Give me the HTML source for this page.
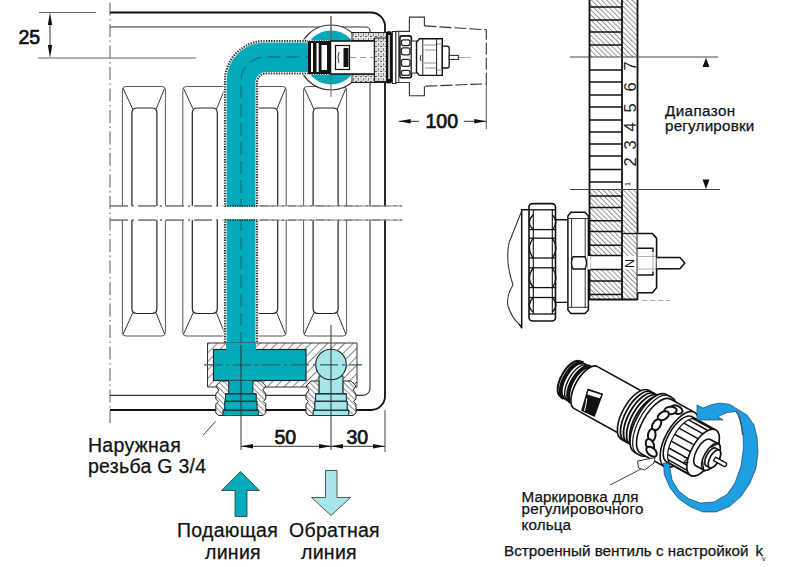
<!DOCTYPE html>
<html><head><meta charset="utf-8"><style>
html,body{margin:0;padding:0;background:#fff;}
svg{display:block;}
text{font-family:"Liberation Sans",sans-serif;fill:#111;}
.dim{font-size:19.5px;font-weight:400;stroke:#111;stroke-width:0.7px;}
.t19{font-size:19.5px;stroke:#111;stroke-width:0.25px;letter-spacing:0.28px;}
.t15{font-size:15.2px;stroke:#111;stroke-width:0.25px;letter-spacing:0.12px;}
</style></head><body>
<svg width="800" height="567" viewBox="0 0 800 567">
<rect width="800" height="567" fill="#fff"/>
<defs>
<pattern id="h1" width="3.6" height="3.6" patternUnits="userSpaceOnUse" patternTransform="rotate(-45)">
<rect width="3.6" height="3.6" fill="#fff"/><line x1="0" y1="0" x2="0" y2="3.6" stroke="#333" stroke-width="1"/></pattern>
<pattern id="h2" width="6" height="6" patternUnits="userSpaceOnUse" patternTransform="rotate(45)">
<rect width="6" height="6" fill="#fff"/><line x1="0" y1="0" x2="0" y2="6" stroke="#222" stroke-width="1.1"/></pattern>
<pattern id="h3" width="4" height="4" patternUnits="userSpaceOnUse" patternTransform="rotate(-45)">
<rect width="4" height="4" fill="#fff"/><line x1="0" y1="0" x2="0" y2="4" stroke="#222" stroke-width="1"/></pattern>
<pattern id="stip" width="5" height="5" patternUnits="userSpaceOnUse">
<rect width="5" height="5" fill="#f2f2f2"/><circle cx="1" cy="1.5" r="0.8" fill="#222"/><circle cx="3.5" cy="4" r="0.7" fill="#333"/><rect x="2.5" y="0.5" width="1.8" height="0.8" fill="#555"/><rect x="0.3" y="3.6" width="1.2" height="0.8" fill="#666"/></pattern>
<marker id="ah" viewBox="0 0 12 8" refX="12" refY="4" markerWidth="12" markerHeight="8" markerUnits="userSpaceOnUse" orient="auto-start-reverse">
<path d="M0,0 L12,4 L0,8 Z" fill="#111"/></marker>
</defs>
<g stroke="#666" stroke-width="1">
<line x1="39" y1="12.5" x2="96" y2="12.5"/>
<line x1="38" y1="58" x2="196" y2="58"/>
</g>
<line x1="50" y1="19" x2="50" y2="52" stroke="#333" stroke-width="1"/>
<path d="M50,12.5 L47.8,25 L52.2,25 Z M50,58 L47.8,45 L52.2,45 Z" fill="#111"/>
<text x="18.5" y="43.7" class="dim">25</text>
<line x1="110" y1="2.5" x2="110" y2="423" stroke="#777" stroke-width="1.2" stroke-dasharray="13 3.5 1.5 3.5"/>
<path d="M110,27 H366 A4,4 0 0 1 370,31 V388 A7,7 0 0 1 363,395.4 H110" fill="none" stroke="#333" stroke-width="1.1"/>
<path d="M110,12.5 H371 A14,14 0 0 1 385,26.5 V396 A14,14 0 0 1 371,410 H110" fill="none" stroke="#111" stroke-width="1.8"/>
<path d="M122.4,206 V90 Q122.4,86.5 125.9,86.5 H161.9 Q165.4,86.5 165.4,90 V206" fill="none" stroke="#555" stroke-width="1"/>
<path d="M123.2,88.5 L132.9,109.5 M164.6,88.5 L155.9,109.5" fill="none" stroke="#333" stroke-width="1"/>
<path d="M131.9,206 V113 Q131.9,108 136.9,108 H151.9 Q156.9,108 156.9,113 V206" fill="none" stroke="#222" stroke-width="1.2"/>
<path d="M122.4,220 V332.5 Q122.4,336 125.9,336 H161.9 Q165.4,336 165.4,332.5 V220" fill="none" stroke="#555" stroke-width="1"/>
<path d="M123.2,334 L132.9,312.5 M164.6,334 L155.9,312.5" fill="none" stroke="#333" stroke-width="1"/>
<path d="M131.9,220 V308.5 Q131.9,313.5 136.9,313.5 H151.9 Q156.9,313.5 156.9,308.5 V220" fill="none" stroke="#222" stroke-width="1.2"/>
<path d="M182.8,206 V90 Q182.8,86.5 186.3,86.5 H222.3 Q225.8,86.5 225.8,90 V206" fill="none" stroke="#555" stroke-width="1"/>
<path d="M183.60000000000002,88.5 L193.3,109.5 M225.0,88.5 L216.3,109.5" fill="none" stroke="#333" stroke-width="1"/>
<path d="M192.3,206 V113 Q192.3,108 197.3,108 H212.3 Q217.3,108 217.3,113 V206" fill="none" stroke="#222" stroke-width="1.2"/>
<path d="M182.8,220 V332.5 Q182.8,336 186.3,336 H222.3 Q225.8,336 225.8,332.5 V220" fill="none" stroke="#555" stroke-width="1"/>
<path d="M183.60000000000002,334 L193.3,312.5 M225.0,334 L216.3,312.5" fill="none" stroke="#333" stroke-width="1"/>
<path d="M192.3,220 V308.5 Q192.3,313.5 197.3,313.5 H212.3 Q217.3,313.5 217.3,308.5 V220" fill="none" stroke="#222" stroke-width="1.2"/>
<path d="M243.2,206 V90 Q243.2,86.5 246.7,86.5 H282.7 Q286.2,86.5 286.2,90 V206" fill="none" stroke="#555" stroke-width="1"/>
<path d="M244.0,88.5 L253.7,109.5 M285.4,88.5 L276.7,109.5" fill="none" stroke="#333" stroke-width="1"/>
<path d="M252.7,206 V113 Q252.7,108 257.7,108 H272.7 Q277.7,108 277.7,113 V206" fill="none" stroke="#222" stroke-width="1.2"/>
<path d="M243.2,220 V332.5 Q243.2,336 246.7,336 H282.7 Q286.2,336 286.2,332.5 V220" fill="none" stroke="#555" stroke-width="1"/>
<path d="M244.0,334 L253.7,312.5 M285.4,334 L276.7,312.5" fill="none" stroke="#333" stroke-width="1"/>
<path d="M252.7,220 V308.5 Q252.7,313.5 257.7,313.5 H272.7 Q277.7,313.5 277.7,308.5 V220" fill="none" stroke="#222" stroke-width="1.2"/>
<path d="M303.6,206 V90 Q303.6,86.5 307.1,86.5 H343.1 Q346.6,86.5 346.6,90 V206" fill="none" stroke="#555" stroke-width="1"/>
<path d="M304.40000000000003,88.5 L314.1,109.5 M345.8,88.5 L337.1,109.5" fill="none" stroke="#333" stroke-width="1"/>
<path d="M313.1,206 V113 Q313.1,108 318.1,108 H333.1 Q338.1,108 338.1,113 V206" fill="none" stroke="#222" stroke-width="1.2"/>
<path d="M303.6,220 V332.5 Q303.6,336 307.1,336 H343.1 Q346.6,336 346.6,332.5 V220" fill="none" stroke="#555" stroke-width="1"/>
<path d="M304.40000000000003,334 L314.1,312.5 M345.8,334 L337.1,312.5" fill="none" stroke="#333" stroke-width="1"/>
<path d="M313.1,220 V308.5 Q313.1,313.5 318.1,313.5 H333.1 Q338.1,313.5 338.1,308.5 V220" fill="none" stroke="#222" stroke-width="1.2"/>
<g stroke="#666" stroke-width="1" stroke-dasharray="18 4 2 4">
<line x1="110" y1="206" x2="402" y2="206"/><line x1="110" y1="220" x2="402" y2="220"/>
</g>
<circle cx="331" cy="57.5" r="32.5" fill="#fff" stroke="#333" stroke-width="1.2"/>
<circle cx="331" cy="57.5" r="27" fill="#02abb9"/>
<line x1="331" y1="16" x2="331" y2="97" stroke="#666" stroke-width="1"/>
<path d="M225,345 V81 A40,40 0 0 1 265,41 H310 V73.5 H266 A9,9 0 0 0 257,82.5 V345 Z" fill="#02abb9" stroke="#fff" stroke-width="3.2"/>
<path d="M225,345 V81 A40,40 0 0 1 265,41 H310 V73.5 H266 A9,9 0 0 0 257,82.5 V345 Z" fill="none" stroke="#333" stroke-width="2.2" stroke-dasharray="1.4 1.2"/>
<path d="M241,345 V81 A24,24 0 0 1 265,57 H310" fill="none" stroke="#067a8a" stroke-width="1.5" stroke-dasharray="13 6"/>
<rect x="111" y="206.6" width="290" height="12.8" fill="#fff"/>
<g stroke="#666" stroke-width="1" stroke-dasharray="18 4 2 4"><line x1="110" y1="206" x2="222" y2="206"/><line x1="110" y1="220" x2="222" y2="220"/><line x1="260" y1="206" x2="402" y2="206"/><line x1="260" y1="220" x2="402" y2="220"/></g>
<path d="M225,206 H257 M225,220 H257" stroke="#222" stroke-width="1.6" stroke-dasharray="1.3 1.1"/>
<path d="M207.5,343 H357 V387 H207.5 Z" fill="url(#h2)" stroke="#333" stroke-width="1"/>
<rect x="213.5" y="349.5" width="92.5" height="31" fill="#02abb9" stroke="#222" stroke-width="1.2"/>
<rect x="226" y="343" width="30" height="7" fill="#02abb9"/>
<rect x="228.7" y="380.6" width="24.2" height="13.5" fill="#02abb9"/>
<rect x="319" y="376" width="24" height="18" fill="#a6e6eb" stroke="#222" stroke-width="1"/>
<circle cx="331" cy="364.5" r="15.3" fill="#a6e6eb" stroke="#222" stroke-width="1.1"/>
<path d="M228.7,381 L220.8,381 L215.8,386 L218.8,390 L215.8,394 L215.8,399 L218.3,401.5 L215.8,404 L215.8,413 L218.8,415.5 L223.1,415.5 L223.1,410.3 L224.7,410.3 L224.7,401.2 L225.5,401.2 L225.5,393.7 L228.7,393.7 Z" fill="url(#h3)" stroke="#222" stroke-width="1"/>
<path d="M252.9,381 L260.8,381 L265.8,386 L262.8,390 L265.8,394 L265.8,399 L263.3,401.5 L265.8,404 L265.8,413 L262.8,415.5 L258.5,415.5 L258.5,410.3 L256.9,410.3 L256.9,401.2 L256.1,401.2 L256.1,393.7 L252.9,393.7 Z" fill="url(#h3)" stroke="#222" stroke-width="1"/>
<path d="M225.5,393.7 H256.1 V401.2 H256.90000000000003 V410.3 H258.5 V415.5 H223.10000000000002 V410.3 H224.70000000000002 V401.2 H225.5 Z" fill="#02abb9" stroke="#1a3a40" stroke-width="1"/>
<path d="M225.5,393.7 H256.1 M224.70000000000002,401.2 H256.90000000000003 M223.10000000000002,410.3 H258.5" stroke="#1a3a40" stroke-width="1.4"/>
<path d="M318.9,381 L311.0,381 L306.0,386 L309.0,390 L306.0,394 L306.0,399 L308.5,401.5 L306.0,404 L306.0,413 L309.0,415.5 L313.3,415.5 L313.3,410.3 L314.9,410.3 L314.9,401.2 L315.7,401.2 L315.7,393.7 L318.9,393.7 Z" fill="url(#h3)" stroke="#222" stroke-width="1"/>
<path d="M343.1,381 L351.0,381 L356.0,386 L353.0,390 L356.0,394 L356.0,399 L353.5,401.5 L356.0,404 L356.0,413 L353.0,415.5 L348.7,415.5 L348.7,410.3 L347.1,410.3 L347.1,401.2 L346.3,401.2 L346.3,393.7 L343.1,393.7 Z" fill="url(#h3)" stroke="#222" stroke-width="1"/>
<path d="M315.7,393.7 H346.3 V401.2 H347.1 V410.3 H348.7 V415.5 H313.3 V410.3 H314.9 V401.2 H315.7 Z" fill="#a6e6eb" stroke="#1a3a40" stroke-width="1"/>
<path d="M315.7,393.7 H346.3 M314.9,401.2 H347.1 M313.3,410.3 H348.7" stroke="#1a3a40" stroke-width="1.4"/>
<line x1="204" y1="364.8" x2="362" y2="364.8" stroke="#2f6068" stroke-width="1.2" stroke-dasharray="18 4 3 4"/>
<line x1="241" y1="345" x2="241" y2="450" stroke="#333" stroke-width="1"/>
<line x1="331" y1="325" x2="331" y2="450" stroke="#333" stroke-width="1"/>
<line x1="385" y1="410" x2="385" y2="452" stroke="#444" stroke-width="1"/>
<line x1="241" y1="446.3" x2="385" y2="446.3" stroke="#333" stroke-width="1"/>
<path d="M241,446.3 L253,444 L253,448.6 Z M331,446.3 L319,444 L319,448.6 Z M331,446.3 L343,444 L343,448.6 Z M385,446.3 L373,444 L373,448.6 Z" fill="#111"/>
<text x="274.5" y="443.7" class="dim">50</text>
<text x="346.5" y="443.7" class="dim">30</text>
<line x1="215.4" y1="421.4" x2="203.2" y2="435.2" stroke="#444" stroke-width="1"/>
<path d="M240.5,471.5 L259.5,490.5 H247 V516.5 H235 V490.5 H221.5 Z" fill="#02abb9" stroke="#333" stroke-width="0.8"/>
<path d="M325.5,470.5 H337 V497.5 H350.5 L331,515.5 L311.5,497.5 H325.5 Z" fill="#a6e6eb" stroke="#333" stroke-width="0.8"/>
<line x1="331" y1="16" x2="331" y2="41" stroke="#666" stroke-width="1"/>
<rect x="352" y="32.5" width="37" height="8" fill="url(#stip)" stroke="#222" stroke-width="1"/>
<rect x="352" y="74" width="37" height="8.5" fill="url(#stip)" stroke="#222" stroke-width="1"/>
<rect x="308" y="40.5" width="22.5" height="34" fill="#111"/>
<rect x="311" y="43" width="2" height="29" fill="#fff"/>
<rect x="316.5" y="43" width="2.2" height="29" fill="#fff"/>
<rect x="321.5" y="45" width="5.5" height="25" fill="#fff"/>
<path d="M308,40.5 H331 M308,74.5 H331" stroke="#fff" stroke-width="1" stroke-dasharray="1.2 1.2"/>
<rect x="330.5" y="41" width="44" height="33" fill="#fff" stroke="#111" stroke-width="1.5"/>
<rect x="335.5" y="45.5" width="14" height="24" fill="#fff" stroke="#111" stroke-width="1.2"/>
<rect x="343.5" y="48" width="5" height="19" fill="#111"/>
<path d="M339,52 Q337,57 339,63" fill="none" stroke="#333" stroke-width="1"/>
<line x1="350" y1="57.5" x2="374" y2="57.5" stroke="#999" stroke-width="1" stroke-dasharray="6 4"/>
<rect x="374.5" y="38" width="14" height="43.5" fill="url(#stip)" stroke="#222" stroke-width="1"/>
<rect x="386" y="31.3" width="6" height="52.2" rx="2" fill="#111"/>
<rect x="388.3" y="35" width="1.6" height="44" fill="#ddd"/>
<rect x="392.4" y="31.5" width="3.5" height="52" fill="#fff" stroke="#222" stroke-width="1"/>
<path d="M396,31.4 H409.4 V17.1 H424.4 V25.9" fill="none" stroke="#333" stroke-width="1.1"/>
<path d="M396,82.5 H409.4 V95.7 H424.4 V86.2" fill="none" stroke="#333" stroke-width="1.1"/>
<path d="M424.4,25.9 L486.3,29.8 V83.8 L424.4,86.2" fill="none" stroke="#333" stroke-width="1.1" stroke-dasharray="12 3"/>
<rect x="395.9" y="31.5" width="2.9" height="51" fill="#fff" stroke="#333" stroke-width="1"/>
<rect x="399.9" y="35.9" width="11.5" height="41.8" rx="2" fill="#fff" stroke="#111" stroke-width="1.6"/>
<rect x="401.4" y="39.9" width="8.6" height="5.7" rx="2" fill="#fff" stroke="#222" stroke-width="1.3"/>
<rect x="401.4" y="47.9" width="8.6" height="6.9" rx="2" fill="#fff" stroke="#222" stroke-width="1.3"/>
<rect x="401.4" y="59.4" width="8.6" height="6.9" rx="2" fill="#fff" stroke="#222" stroke-width="1.3"/>
<rect x="401.4" y="70.3" width="8.6" height="5.1" rx="2" fill="#fff" stroke="#222" stroke-width="1.3"/>
<rect x="411.4" y="41" width="5.1" height="32" fill="#fff" stroke="#333" stroke-width="1"/>
<path d="M416.5,42.2 L419.4,38.75 H442.3 V75.4 H419.4 L416.5,72 Z" fill="#fff" stroke="#111" stroke-width="1.4"/>
<path d="M422.8,39 V75.2 M436.6,39 V75.2" stroke="#222" stroke-width="1"/>
<path d="M424,45 H436 M425,50 H436 M424,63 H436 M425,68 H436 M437,44 H441 M437,70 H441" stroke="#777" stroke-width="0.8"/>
<path d="M421,55 Q419.5,58 421,61" fill="none" stroke="#333" stroke-width="1"/>
<path d="M442.3,46.2 H447 Q449.2,46.2 449.2,48.5 V65.7 Q449.2,68 447,68 H442.3 Z" fill="#fff" stroke="#111" stroke-width="1.3"/>
<rect x="449.2" y="55.4" width="9.2" height="4" fill="#fff" stroke="#222" stroke-width="1"/>
<line x1="459" y1="57.5" x2="470" y2="57.5" stroke="#999" stroke-width="0.8"/>
<line x1="486.3" y1="84" x2="486.3" y2="129" stroke="#555" stroke-width="1"/>
<path d="M398.7,121.3 H419 M463.7,121.3 H486" stroke="#333" stroke-width="1"/>
<path d="M398.7,121.3 L410.7,119 L410.7,123.6 Z M486.3,121.3 L474.3,119 L474.3,123.6 Z" fill="#111"/>
<text x="425.5" y="127.5" class="dim">100</text>
<rect x="589.5" y="0" width="32.5" height="57" fill="url(#h1)"/>
<rect x="622" y="0" width="15.5" height="57" fill="url(#h1)"/>
<rect x="589.5" y="190" width="32.5" height="66" fill="url(#h1)"/>
<rect x="589.5" y="269.5" width="32.5" height="30" fill="url(#h1)"/>
<rect x="622" y="190" width="15.5" height="66" fill="url(#h1)"/>
<rect x="622" y="269.5" width="15.5" height="30" fill="url(#h1)"/>
<g stroke="#111" stroke-width="1.5"><line x1="589.5" y1="7" x2="622" y2="7"/><line x1="589.5" y1="20" x2="622" y2="20"/><line x1="589.5" y1="32" x2="622" y2="32"/><line x1="589.5" y1="45" x2="622" y2="45"/><line x1="589.5" y1="70" x2="622" y2="70"/><line x1="589.5" y1="82" x2="622" y2="82"/><line x1="589.5" y1="95" x2="622" y2="95"/><line x1="589.5" y1="107" x2="622" y2="107"/><line x1="589.5" y1="120" x2="622" y2="120"/><line x1="589.5" y1="132" x2="622" y2="132"/><line x1="589.5" y1="144" x2="622" y2="144"/><line x1="589.5" y1="156" x2="622" y2="156"/><line x1="589.5" y1="169.5" x2="622" y2="169.5"/><line x1="589.5" y1="182" x2="622" y2="182"/><line x1="589.5" y1="196" x2="622" y2="196"/><line x1="589.5" y1="207.5" x2="622" y2="207.5"/><line x1="589.5" y1="220.8" x2="622" y2="220.8"/><line x1="589.5" y1="231.6" x2="622" y2="231.6"/><line x1="589.5" y1="245.3" x2="622" y2="245.3"/><line x1="589.5" y1="255.6" x2="622" y2="255.6"/><line x1="589.5" y1="269.4" x2="622" y2="269.4"/><line x1="589.5" y1="280.9" x2="622" y2="280.9"/><line x1="589.5" y1="294.6" x2="622" y2="294.6"/></g>
<path d="M589.5,0 V300 M622,0 V300 M637.5,0 V300 M589.5,299.5 H637.5" fill="none" stroke="#111" stroke-width="1.8"/>
<line x1="570" y1="57" x2="718" y2="57" stroke="#444" stroke-width="1"/>
<line x1="570" y1="189.5" x2="720" y2="189.5" stroke="#444" stroke-width="1"/>
<path d="M706,58 L702.5,67 H709.5 Z M706,189 L702.5,179.5 H709.5 Z" fill="#111"/>
<text x="0" y="0" transform="translate(635.5,66) rotate(-90)" text-anchor="middle" style="font-size:16.5px;fill:#222">7</text>
<text x="0" y="0" transform="translate(635.5,87) rotate(-90)" text-anchor="middle" style="font-size:16.5px;fill:#222">6</text>
<text x="0" y="0" transform="translate(635.5,108) rotate(-90)" text-anchor="middle" style="font-size:16.5px;fill:#222">5</text>
<text x="0" y="0" transform="translate(635.5,127) rotate(-90)" text-anchor="middle" style="font-size:16.5px;fill:#222">4</text>
<text x="0" y="0" transform="translate(635.5,145) rotate(-90)" text-anchor="middle" style="font-size:16.5px;fill:#222">3</text>
<text x="0" y="0" transform="translate(635.5,162) rotate(-90)" text-anchor="middle" style="font-size:16.5px;fill:#222">2</text>
<text x="0" y="0" transform="translate(630,184) rotate(-90)" text-anchor="middle" style="font-size:8px;fill:#222">1</text>
<path d="M622,233.5 H637.5" stroke="#111" stroke-width="1.3"/>
<text x="0" y="0" transform="translate(634,263.5) rotate(-90)" text-anchor="middle" style="font-size:12.5px;fill:#111">N</text>
<path d="M637.5,233.5 H652.4 L656.6,238.4 V287.8 L652.4,292.7 H637.5" fill="#fff" stroke="#111" stroke-width="1.6"/>
<path d="M637.5,248.3 H653 V252 M637.5,275 H653 V271.5" fill="none" stroke="#111" stroke-width="1.4"/>
<path d="M653,252 V271.5 M637.5,256.5 H656 M637.5,269 H656" fill="none" stroke="#999" stroke-width="0.8"/>
<path d="M656.6,257.4 H679.9 L684.8,263 L679.9,268.7 H656.6" fill="#fff" stroke="#111" stroke-width="1.5"/>
<path d="M642.5,300.5 H670" stroke="#aaa" stroke-width="1" stroke-dasharray="5 3"/>
<path d="M555,219.7 H569 V302.4 H555 Z" fill="#fff" stroke="#111" stroke-width="1.4"/>
<path d="M571,212.3 H585 L588.4,216 V310 L585,313.5 H571 L567.9,310 V216 Z" fill="#fff" stroke="#111" stroke-width="1.5"/>
<path d="M568,218.5 H588.4 M568,307.3 H588.4 M571.6,218.5 V307.3 M585.2,218.5 V307.3" fill="none" stroke="#333" stroke-width="1"/>
<path d="M573,256.7 H585 Q588,262.8 585,269 H573 Q570,262.8 573,256.7 Z" fill="#fff" stroke="#111" stroke-width="1.4"/>
<rect x="588" y="256" width="2.5" height="13.5" fill="#fff"/>
<rect x="529" y="203.6" width="26.5" height="117.4" rx="3.5" fill="#fff" stroke="#111" stroke-width="1.6"/>
<path d="M533.3,209.8 V314 M552.3,209.8 V314" stroke="#111" stroke-width="1.1"/>
<line x1="529" y1="209.8" x2="555.5" y2="209.8" stroke="#111" stroke-width="1.3"/>
<line x1="529" y1="229.6" x2="555.5" y2="229.6" stroke="#111" stroke-width="1.3"/>
<line x1="529" y1="238.2" x2="555.5" y2="238.2" stroke="#111" stroke-width="1.3"/>
<line x1="529" y1="258" x2="555.5" y2="258" stroke="#111" stroke-width="1.3"/>
<line x1="529" y1="267.8" x2="555.5" y2="267.8" stroke="#111" stroke-width="1.3"/>
<line x1="529" y1="287.6" x2="555.5" y2="287.6" stroke="#111" stroke-width="1.3"/>
<line x1="529" y1="297.5" x2="555.5" y2="297.5" stroke="#111" stroke-width="1.3"/>
<line x1="529" y1="314" x2="555.5" y2="314" stroke="#111" stroke-width="1.3"/>
<path d="M533.3,214.75 Q525.5,222.175 533.3,229.6 M552.3,214.75 Q559.5,222.175 552.3,229.6" fill="none" stroke="#111" stroke-width="1.3"/>
<path d="M533.3,238.2 Q525.5,248.1 533.3,258 M552.3,238.2 Q559.5,248.1 552.3,258" fill="none" stroke="#111" stroke-width="1.3"/>
<path d="M533.3,267.8 Q525.5,277.70000000000005 533.3,287.6 M552.3,267.8 Q559.5,277.70000000000005 552.3,287.6" fill="none" stroke="#111" stroke-width="1.3"/>
<path d="M533.3,297.5 Q525.5,304.9 533.3,312.3 M552.3,297.5 Q559.5,304.9 552.3,312.3" fill="none" stroke="#111" stroke-width="1.3"/>
<path d="M529,209.8 H521.7 V328.3 M518.5,323.4 L522.2,328.3" fill="none" stroke="#111" stroke-width="1.5"/>
<path d="M521.7,211 Q516,225 509,243 Q505,262 513,285 Q506,296 508,306 Q512,318 518.5,323.4" fill="none" stroke="#333" stroke-width="1.1"/>
<g transform="translate(592,391) rotate(29)"><path d="M-25,-20 L-7,-20 A9.00,20 0 0 1 -7,20 L-25,20 A9.00,20 0 0 1 -25,-20 Z" fill="#fff" stroke="#111" stroke-width="2"/><path d="M-21.50,20.00 A9.00,20 0 0 1 -21.50,-20.00" fill="none" stroke="#111" stroke-width="4"/><path d="M-17.00,20.00 A9.00,20 0 0 1 -17.00,-20.00" fill="none" stroke="#111" stroke-width="1.4"/><path d="M-13.00,20.00 A9.00,20 0 0 1 -13.00,-20.00" fill="none" stroke="#111" stroke-width="4"/><path d="M-9.00,20.00 A9.00,20 0 0 1 -9.00,-20.00" fill="none" stroke="#111" stroke-width="1.4"/><path d="M-7,-24 L50,-24 A10.80,24 0 0 1 50,24 L-7,24 A10.80,24 0 0 1 -7,-24 Z" fill="#fff" stroke="#111" stroke-width="1.6"/><path d="M-5,0 L11,-3 L15,21.5 L0,22.5 Z" fill="#111"/><path d="M-4,1 L10.5,-2 L11,3 L-3,6 Z" fill="#fff" stroke="#111" stroke-width="1.2"/><path d="M-1,9 Q2,16 3,21" fill="none" stroke="#fff" stroke-width="1"/><path d="M49,-28 L67,-28 A12.60,28 0 0 1 67,28 L49,28 A12.60,28 0 0 1 49,-28 Z" fill="#fff" stroke="#111" stroke-width="1.6"/><path d="M52.50,28.00 A12.60,28 0 0 1 52.50,-28.00" fill="none" stroke="#111" stroke-width="1.8"/><path d="M56.00,28.00 A12.60,28 0 0 1 56.00,-28.00" fill="none" stroke="#111" stroke-width="1.8"/><path d="M59.50,28.00 A12.60,28 0 0 1 59.50,-28.00" fill="none" stroke="#111" stroke-width="1.8"/><path d="M63.00,28.00 A12.60,28 0 0 1 63.00,-28.00" fill="none" stroke="#111" stroke-width="1.8"/><path d="M66.00,28.00 A12.60,28 0 0 1 66.00,-28.00" fill="none" stroke="#111" stroke-width="1.8"/><path d="M67,-33 L73,-33 A14.85,33 0 0 1 73,33 L67,33 A14.85,33 0 0 1 67,-33 Z" fill="#fff" stroke="#111" stroke-width="1.6"/><path d="M70.00,33.00 A14.85,33 0 0 1 70.00,-33.00" fill="none" stroke="#111" stroke-width="1.2"/><path d="M73,-31 L100,-31 A13.95,31 0 0 1 100,31 L73,31 A13.95,31 0 0 1 73,-31 Z" fill="#fff" stroke="#111" stroke-width="1.6"/><ellipse cx="100" cy="0" rx="13.95" ry="31" fill="#fff" stroke="#111" stroke-width="1.6"/><ellipse cx="83.0" cy="-24.7" rx="6.2" ry="3.8" fill="#fff" stroke="#111" stroke-width="2" transform="rotate(-5 83.0 -24.7)"/><ellipse cx="78.1" cy="-21.0" rx="6.2" ry="3.8" fill="#fff" stroke="#111" stroke-width="2" transform="rotate(-32 78.1 -21.0)"/><ellipse cx="74.4" cy="-12.8" rx="6.2" ry="3.8" fill="#fff" stroke="#111" stroke-width="2" transform="rotate(-59 74.4 -12.8)"/><ellipse cx="72.9" cy="-1.7" rx="6.2" ry="3.8" fill="#fff" stroke="#111" stroke-width="2" transform="rotate(-86 72.9 -1.7)"/><ellipse cx="73.7" cy="9.7" rx="6.2" ry="3.8" fill="#fff" stroke="#111" stroke-width="2" transform="rotate(247 73.7 9.7)"/><ellipse cx="76.8" cy="19.0" rx="6.2" ry="3.8" fill="#fff" stroke="#111" stroke-width="2" transform="rotate(220 76.8 19.0)"/><ellipse cx="81.5" cy="24.2" rx="6.2" ry="3.8" fill="#fff" stroke="#111" stroke-width="2" transform="rotate(193 81.5 24.2)"/><path d="M100,-26 L127,-26 A11.70,26 0 0 1 127,26 L100,26 A11.70,26 0 0 1 100,-26 Z" fill="#fff" stroke="#111" stroke-width="1.6"/><ellipse cx="127" cy="0" rx="11.70" ry="26" fill="#fff" stroke="#111" stroke-width="1.6"/><line x1="103.0" y1="25.6" x2="125.0" y2="25.6" stroke="#111" stroke-width="1.5"/><line x1="99.7" y1="23.2" x2="121.7" y2="23.2" stroke="#111" stroke-width="1.5"/><line x1="96.9" y1="18.7" x2="118.9" y2="18.7" stroke="#111" stroke-width="1.5"/><line x1="94.8" y1="12.6" x2="116.8" y2="12.6" stroke="#111" stroke-width="1.5"/><line x1="93.6" y1="5.4" x2="115.6" y2="5.4" stroke="#111" stroke-width="1.5"/><line x1="93.3" y1="-2.3" x2="115.3" y2="-2.3" stroke="#111" stroke-width="1.5"/><line x1="94.2" y1="-9.7" x2="116.2" y2="-9.7" stroke="#111" stroke-width="1.5"/><line x1="95.9" y1="-16.4" x2="117.9" y2="-16.4" stroke="#111" stroke-width="1.5"/><line x1="98.5" y1="-21.6" x2="120.5" y2="-21.6" stroke="#111" stroke-width="1.5"/><line x1="101.6" y1="-24.9" x2="123.6" y2="-24.9" stroke="#111" stroke-width="1.5"/><path d="M105.00,26.00 A11.70,26 0 0 1 105.00,-26.00" fill="none" stroke="#111" stroke-width="1.2"/><path d="M127,-15 L136,-15 A6.75,15 0 0 1 136,15 L127,15 A6.75,15 0 0 1 127,-15 Z" fill="#fff" stroke="#111" stroke-width="1.6"/><ellipse cx="136" cy="0" rx="6.75" ry="15" fill="#fff" stroke="#111" stroke-width="1.6"/><path d="M136,-15 L131,-8 M136,15 L131,8" stroke="#111" stroke-width="1.2"/><path d="M136,-10 L140,-10 A4.50,10 0 0 1 140,10 L136,10 A4.50,10 0 0 1 136,-10 Z" fill="#fff" stroke="#111" stroke-width="1.6"/><ellipse cx="140" cy="0" rx="4.50" ry="10" fill="#fff" stroke="#111" stroke-width="1.6"/><text x="115" y="19" style="font-size:9px;font-weight:700" transform="rotate(-29 115 19)">Z</text><path d="M140,-2 H152 A1.5,2 0 0 1 152,2 H140 Z" fill="#fff" stroke="#111" stroke-width="1.3"/></g>
<path d="M697,405 L703,408 L712,404.5 L720,403 L730,404.5 L737,409 L747,415 L754,425 L757,437 L758,452 L756,468 L750,483 L741,496.5 L729.4,506.4 L716.2,511.9 L702.9,511.9 L689.7,506.4 L678.7,498.7 L669.9,487.7 L664.3,474.4 L663.5,463 L669,463 L672,479.9 L678.7,491 L688.6,498.7 L700.7,503.1 L714,502 L727.2,494.3 L735,483 L741,466 L743.5,448 L743,433 L741,423 L739,415 L736,411.5 L727,412.5 L718,416.5 L723,420 L697,420 Z" fill="#1e9fe3" stroke="#1c3f5c" stroke-width="0.7" stroke-linejoin="round"/>
<path d="M736,411.5 Q741,418 742.5,435" fill="none" stroke="#1c3f5c" stroke-width="1"/>
<path d="M637.6,461 L655,457.6 L654,463 L644.7,470 L638.5,468 Z" fill="#fff" stroke="#333" stroke-width="1"/>
<line x1="641" y1="469" x2="610" y2="485" stroke="#444" stroke-width="1"/>
<text x="88" y="452" class="t19">Наружная</text>
<text x="88" y="473" class="t19">резьба G 3/4</text>
<text x="177" y="536.5" class="t19">Подающая</text>
<text x="205" y="559" class="t19">линия</text>
<text x="289" y="536.5" class="t19">Обратная</text>
<text x="301" y="559" class="t19">линия</text>
<text x="665" y="116" class="t15" style="letter-spacing:0.4px">Диапазон</text>
<text x="665" y="130.6" class="t15" style="letter-spacing:0.22px">регулировки</text>
<text x="521.5" y="501.5" class="t15">Маркировка для</text>
<text x="521.5" y="513.5" class="t15" style="letter-spacing:0.25px">регулировочного</text>
<text x="521.5" y="529.5" class="t15">кольца</text>
<text x="504" y="556" class="t15" style="letter-spacing:0.02px">Встроенный вентиль с настройкой</text>
<text x="755.5" y="556" class="t15">k</text>
<text x="762" y="561" style="font-size:7px">v</text>
</svg></body></html>
